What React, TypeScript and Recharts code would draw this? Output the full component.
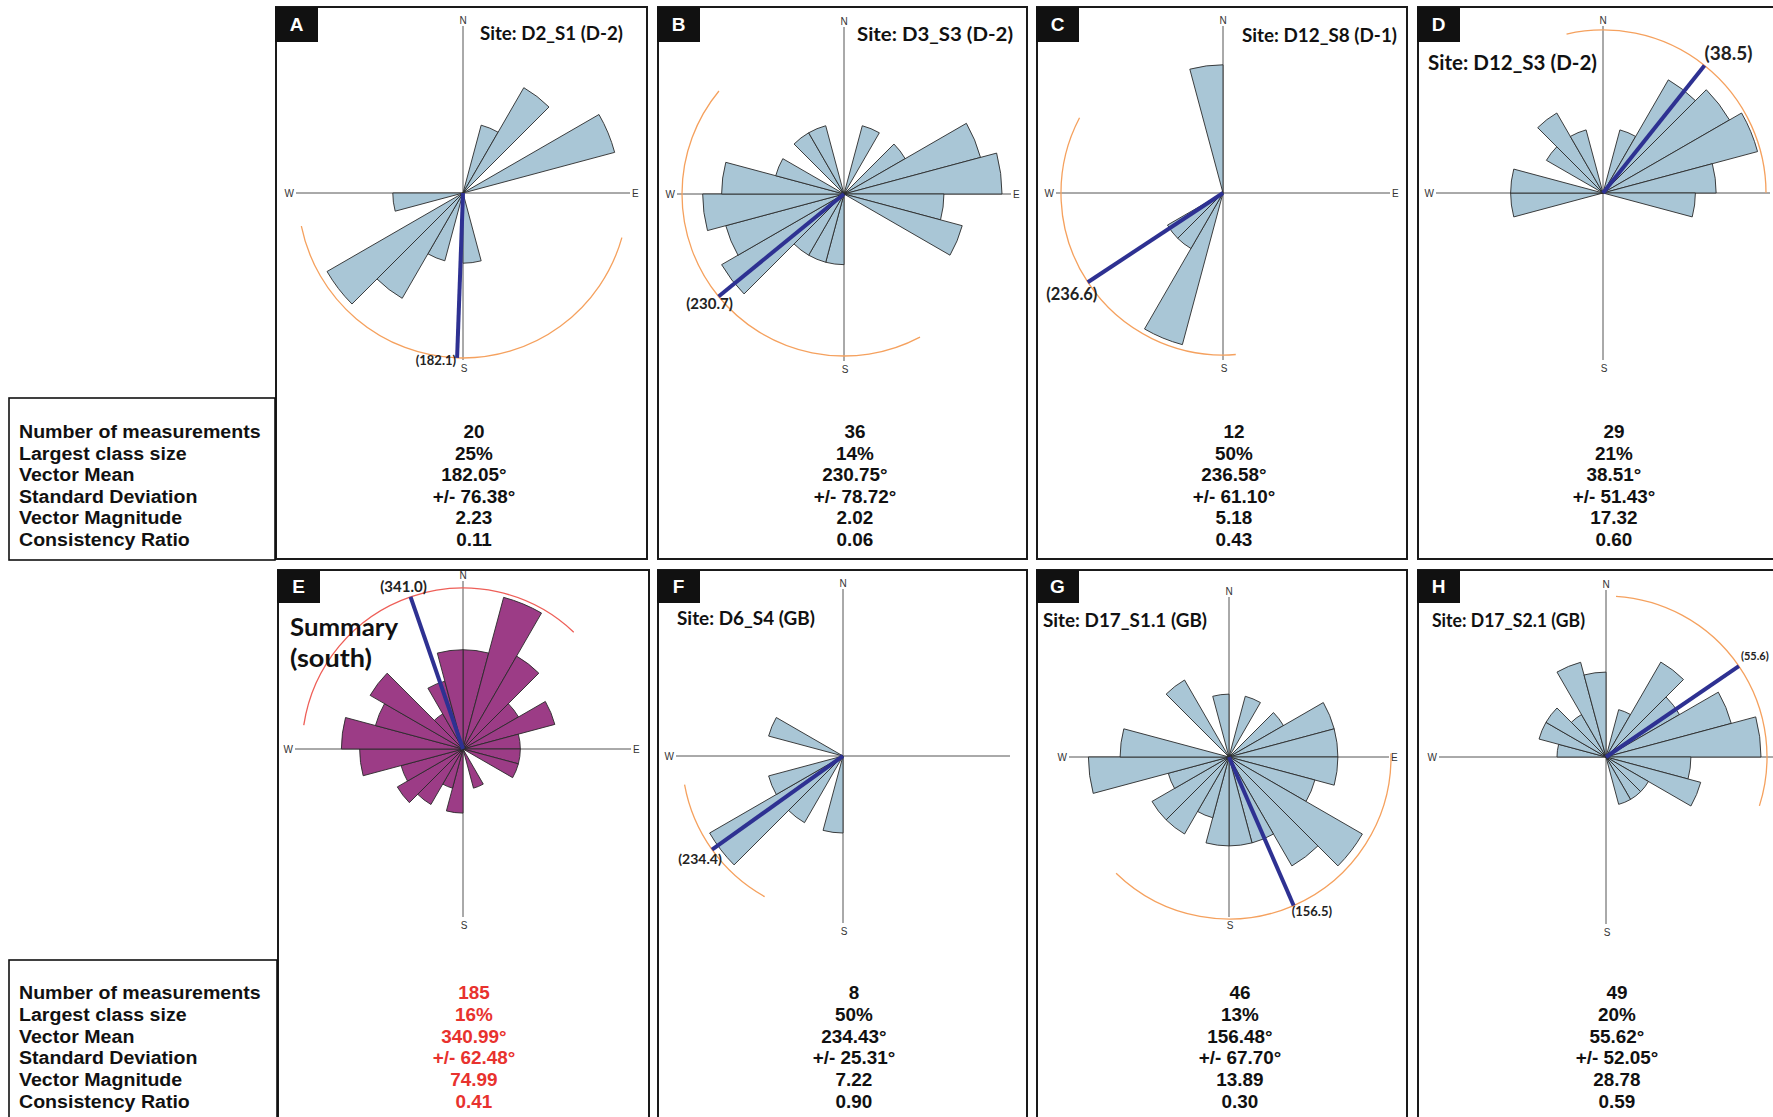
import React from "react";
import {
	RadialBarChart,
	RadialBar,
	PolarAngleAxis,
	PolarRadiusAxis,
	Sector,
} from "recharts";

// 15-degree bins, bearing of the start of each bin (clockwise from north)
const binLabels = [
	"0", "15", "30", "45", "60", "75", "90", "105", "120", "135", "150", "165",
	"180", "195", "210", "225", "240", "255", "270", "285", "300", "315", "330", "345",
];

const countsA = [0, 1, 3, 0, 5, 0, 0, 0, 0, 0, 0, 1, 0, 1, 3, 5, 0, 1, 0, 0, 0, 0, 0, 0];
const countsB = [0, 1, 0, 1, 4, 5, 2, 3, 0, 0, 0, 0, 1, 1, 1, 4, 3, 4, 3, 1, 0, 1, 1, 0];
const countsC = [0, 0, 0, 0, 0, 0, 0, 0, 0, 0, 0, 0, 0, 6, 1, 1, 0, 0, 0, 0, 0, 0, 0, 4];
const countsD = [0, 1, 4, 5, 6, 3, 2, 0, 0, 0, 0, 0, 0, 0, 0, 0, 0, 2, 2, 0, 1, 2, 1, 0];
const countsE = [12, 30, 14, 5, 11, 4, 4, 4, 0, 0, 2, 0, 5, 2, 5, 7, 5, 13, 18, 10, 14, 2, 6, 12];
const countsF = [0, 0, 0, 0, 0, 0, 0, 0, 0, 0, 0, 0, 1, 0, 1, 4, 1, 0, 0, 1, 0, 0, 0, 0];
const countsG = [0, 1, 0, 1, 3, 3, 3, 2, 6, 4, 2, 2, 2, 1, 2, 2, 1, 5, 3, 0, 0, 2, 0, 1];
const countsH = [0, 1, 5, 3, 7, 10, 3, 4, 1, 1, 1, 0, 0, 0, 0, 0, 0, 0, 1, 2, 2, 1, 4, 3];
const siteCounts = [countsA, countsB, countsC, countsD, countsE, countsF, countsG, countsH];

const panelLetters = ["A", "B", "C", "D", "E", "F", "G", "H"];
const siteTitles = [
	"Site: D2_S1 (D-2)",
	"Site: D3_S3 (D-2)",
	"Site: D12_S8 (D-1)",
	"Site: D12_S3 (D-2)",
	"Summary\n(south)",
	"Site: D6_S4 (GB)",
	"Site: D17_S1.1 (GB)",
	"Site: D17_S2.1 (GB)",
];

const statLabels = [
	"Number of measurements",
	"Largest class size",
	"Vector Mean",
	"Standard Deviation",
	"Vector Magnitude",
	"Consistency Ratio",
];
const measurementCounts = ["20", "36", "12", "29", "185", "8", "46", "49"];
const largestClassSizes = ["25%", "14%", "50%", "21%", "16%", "50%", "13%", "20%"];
const vectorMeans = [182.05, 230.75, 236.58, 38.51, 340.99, 234.43, 156.48, 55.62];
const meanLabels = ["(182.1)", "(230.7)", "(236.6)", "(38.5)", "(341.0)", "(234.4)", "(156.5)", "(55.6)"];
const stdDevs = [76.38, 78.72, 61.1, 51.43, 62.48, 25.31, 67.7, 52.05];
const vectorMagnitudes = ["2.23", "2.02", "5.18", "17.32", "74.99", "7.22", "13.89", "28.78"];
const consistencyRatios = ["0.11", "0.06", "0.43", "0.60", "0.41", "0.90", "0.30", "0.59"];

const PAGE_W = 1773;
const PAGE_H = 1117;
const PETAL = "#a9c6d6";
const SUMMARY = "#9c3c86";
const ORANGE = "#f5a15e";
const SALMON = "#ee5f58";
const VECTOR = "#2e3192";

type Anchor = "start" | "middle" | "end";
type TitleLine = { x: number; y: number; size: number; len: number };
type PanelLayout = {
	x: number;
	y: number;
	w: number;
	h: number;
	cx: number;
	cy: number;
	r: number;
	arcR: number;
	axis: number;
	showE: boolean;
	fill: string;
	arc: string;
	lab: [number, number, Anchor, number];
	title: TitleLine[];
};

const panelLayouts: PanelLayout[] = [
	{ x: 275, y: 6, w: 373, h: 554, cx: 463, cy: 193, r: 157, arcR: 165, axis: 167, showE: true, fill: PETAL, arc: ORANGE, lab: [-1, 7, "end", 13], title: [{ x: 480, y: 40, size: 18, len: 143 }] },
	{ x: 657, y: 6, w: 371, h: 554, cx: 844, cy: 194, r: 158, arcR: 162, axis: 167, showE: true, fill: PETAL, arc: ORANGE, lab: [-9, 13, "middle", 15], title: [{ x: 857, y: 41, size: 18, len: 156 }] },
	{ x: 1036, y: 6, w: 372, h: 554, cx: 1223, cy: 193, r: 157, arcR: 162, axis: 167, showE: true, fill: PETAL, arc: ORANGE, lab: [-16, 18, "middle", 16.5], title: [{ x: 1242, y: 42, size: 18, len: 155 }] },
	{ x: 1417, y: 6, w: 360, h: 554, cx: 1603, cy: 193, r: 160, arcR: 163, axis: 167, showE: false, fill: PETAL, arc: ORANGE, lab: [0, -5, "start", 19], title: [{ x: 1428, y: 70, size: 20, len: 169 }] },
	{ x: 277, y: 569, w: 373, h: 560, cx: 463, cy: 749, r: 157, arcR: 161, axis: 168, showE: true, fill: SUMMARY, arc: SALMON, lab: [-7, -5, "middle", 15], title: [{ x: 290, y: 636, size: 24, len: 108 }, { x: 290, y: 667, size: 24, len: 82 }] },
	{ x: 657, y: 569, w: 371, h: 560, cx: 843, cy: 756, r: 154, arcR: 161, axis: 167, showE: false, fill: PETAL, arc: ORANGE, lab: [-12, 14, "middle", 14], title: [{ x: 677, y: 625, size: 19, len: 138 }] },
	{ x: 1036, y: 569, w: 372, h: 560, cx: 1229, cy: 757, r: 154, arcR: 162, axis: 160, showE: true, fill: PETAL, arc: ORANGE, lab: [-2, 10, "start", 13], title: [{ x: 1043, y: 627, size: 19, len: 164 }] },
	{ x: 1417, y: 569, w: 360, h: 560, cx: 1606, cy: 757, r: 155, arcR: 161, axis: 167, showE: false, fill: PETAL, arc: ORANGE, lab: [2, -6, "start", 11], title: [{ x: 1432, y: 627, size: 19, len: 153 }] },
];

const CHART_H = 400;

function RosePanel({ idx }: { idx: number }) {
	const L = panelLayouts[idx];
	const counts = siteCounts[idx];
	const data = binLabels.map((bin, k) => ({ bin, count: counts[k] }));
	const maxCount = Math.max(...counts);
	const ox = L.cx - L.x;
	const oy = L.cy - L.y;
	const mean = vectorMeans[idx];
	const sd = stdDevs[idx];
	const t = (mean * Math.PI) / 180;
	const ex = ox + L.arcR * Math.sin(t);
	const ey = oy - L.arcR * Math.cos(t);
	const [ldx, ldy, anchor, lsize] = L.lab;
	const chartW = Math.min(L.w, PAGE_W - L.x);
	const titleText = siteTitles[idx].split("\n");
	const axisText = { fontFamily: "Liberation Sans", fontSize: 10, fill: "#333" };

	// recharts places each category bar one band past the band start, so the
	// angular range starts one bin (15 deg) earlier to put bin 0 at 0-15 deg bearing
	return (
		<div style={{ position: "absolute", left: L.x, top: L.y, width: chartW, height: CHART_H }}>
			<RadialBarChart
				width={chartW}
				height={CHART_H}
				data={data}
				layout="centric"
				cx={ox}
				cy={oy}
				innerRadius={0}
				outerRadius={L.r}
				startAngle={75}
				endAngle={-285}
				barCategoryGap={0}
				barGap={0}
				margin={{ top: 0, right: 0, bottom: 0, left: 0 }}
			>
				<line x1={ox - L.axis} y1={oy} x2={ox + L.axis} y2={oy} stroke="#555" strokeWidth={1} />
				<line x1={ox} y1={oy - L.axis} x2={ox} y2={oy + L.axis} stroke="#555" strokeWidth={1} />
				<text x={ox} y={oy - L.axis - 2} textAnchor="middle" {...axisText}>N</text>
				<text x={ox + 1} y={oy + L.axis + 12} textAnchor="middle" {...axisText}>S</text>
				<text x={ox - L.axis - 2} y={oy + 4} textAnchor="end" {...axisText}>W</text>
				{L.showE && (
					<text x={ox + L.axis + 2} y={oy + 4} textAnchor="start" {...axisText}>E</text>
				)}
				<PolarAngleAxis type="category" dataKey="bin" tick={false} axisLine={false} tickLine={false} />
				<PolarRadiusAxis
					type="number"
					domain={[0, maxCount]}
					scale="sqrt"
					allowDataOverflow
					tick={false}
					axisLine={false}
				/>
				<RadialBar
					dataKey="count"
					fill={L.fill}
					stroke="#2a2a2a"
					strokeWidth={0.9}
					isAnimationActive={false}
				/>
			</RadialBarChart>
			{/* vector mean, its +/- standard deviation arc and the site title sit above the petals */}
			<svg
				width={chartW}
				height={CHART_H}
				style={{ position: "absolute", left: 0, top: 0, pointerEvents: "none" }}
			>
				<Sector
					cx={ox}
					cy={oy}
					innerRadius={L.arcR}
					outerRadius={L.arcR}
					startAngle={90 - (mean - sd)}
					endAngle={90 - (mean + sd)}
					fill="none"
					stroke={L.arc}
					strokeWidth={1.3}
				/>
				<line x1={ox} y1={oy} x2={ex} y2={ey} stroke={VECTOR} strokeWidth={4} />
				<text
					x={ex + ldx}
					y={ey + ldy}
					textAnchor={anchor}
					fontFamily="Lato"
					fontWeight={700}
					fontSize={lsize}
					fill="#222"
				>
					{meanLabels[idx]}
				</text>
				{titleText.map((line, k) => (
					<text
						key={line}
						x={L.title[k].x - L.x}
						y={L.title[k].y - L.y}
						fontFamily="Lato"
						fontWeight={700}
						fontSize={L.title[k].size}
						textLength={L.title[k].len}
						lengthAdjust="spacingAndGlyphs"
						fill="#111"
					>
						{line}
					</text>
				))}
			</svg>
		</div>
	);
}

function StatsLayer() {
	const rows = [
		measurementCounts,
		largestClassSizes,
		vectorMeans.map((v) => `${v.toFixed(2)}°`),
		stdDevs.map((v) => `+/- ${v.toFixed(2)}°`),
		vectorMagnitudes,
		consistencyRatios,
	];
	const rowTops = [438, 999];
	const rowSteps = [21.6, 21.8];
	const font = { fontFamily: "Liberation Sans", fontWeight: 700, fontSize: 17.5 };
	return (
		<svg
			width={PAGE_W}
			height={PAGE_H}
			style={{ position: "absolute", left: 0, top: 0, pointerEvents: "none" }}
		>
			<rect x={9} y={398} width={266} height={162} fill="none" stroke="#111" strokeWidth={1.6} />
			<rect x={9} y={960} width={268} height={200} fill="none" stroke="#111" strokeWidth={1.6} />
			{[0, 1].map((row) =>
				statLabels.map((label, k) => (
					<text
						key={`${row}-${label}`}
						transform={`translate(19,${rowTops[row] + k * rowSteps[row]}) scale(1.12,1)`}
						fill="#111"
						{...font}
					>
						{label}
					</text>
				)),
			)}
			{panelLayouts.map((L, idx) => {
				const row = idx < 4 ? 0 : 1;
				return rows.map((vals, k) => (
					<text
						key={`${idx}-${k}`}
						transform={`translate(${L.cx + 11},${rowTops[row] + k * rowSteps[row]}) scale(1.08,1)`}
						textAnchor="middle"
						fill={idx === 4 ? "#e8322e" : "#111"}
						{...font}
					>
						{vals[idx]}
					</text>
				));
			})}
		</svg>
	);
}

export default function App() {
	return (
		<div
			style={{
				position: "absolute",
				left: 0,
				top: 0,
				width: PAGE_W,
				height: PAGE_H,
				background: "#fff",
				overflow: "hidden",
			}}
		>
			{panelLayouts.map((L, idx) => (
				<div
					key={`border-${idx}`}
					style={{
						position: "absolute",
						left: L.x,
						top: L.y,
						width: L.w,
						height: L.h,
						border: "2px solid #1a1a1a",
						boxSizing: "border-box",
					}}
				/>
			))}
			{panelLayouts.map((_, idx) => (
				<RosePanel key={`rose-${idx}`} idx={idx} />
			))}
			{panelLayouts.map((L, idx) => (
				<div
					key={`letter-${idx}`}
					style={{
						position: "absolute",
						left: L.x,
						top: L.y + 1,
						width: 43,
						height: idx < 4 ? 35 : 33,
						background: "#111",
						color: "#fff",
						fontFamily: "Liberation Sans",
						fontWeight: 700,
						fontSize: 19,
						display: "flex",
						alignItems: "center",
						justifyContent: "center",
					}}
				>
					{panelLetters[idx]}
				</div>
			))}
			<StatsLayer />
		</div>
	);
}
